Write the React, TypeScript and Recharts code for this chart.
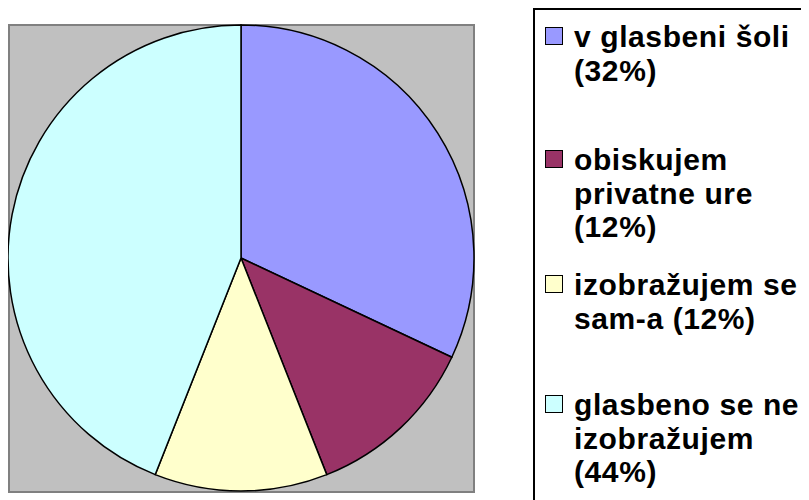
import React from "react";
import { PieChart, Pie, Cell, Legend } from "recharts";

const categories = [
  "v glasbeni šoli (32%)",
  "obiskujem privatne ure (12%)",
  "izobražujem se sam-a (12%)",
  "glasbeno se ne izobražujem (44%)",
];
const values = [32, 12, 12, 44];
const colors = ["#9999FF", "#993366", "#FFFFCC", "#CCFFFF"];

const data = categories.map((name, i) => ({ name, value: values[i] }));

// top of each legend item inside the legend box (Excel spaces them unevenly)
const itemTops = [10, 133, 258, 378];

// legend drawn from the data arrays so the order stays as in the source
const renderLegend = () => (
  <div
    style={{
      position: "relative",
      width: 320,
      height: 520,
      border: "2px solid #000",
      background: "#fff",
      boxSizing: "border-box",
      fontFamily: "'Liberation Sans', Arial, sans-serif",
      fontWeight: "bold",
      fontSize: 30,
      lineHeight: "33.5px",
      letterSpacing: 0.6,
      color: "#000",
    }}
  >
    {categories.map((name, i) => (
      <div
        key={name}
        style={{ position: "absolute", left: 10, top: itemTops[i], width: 260 }}
      >
        <span
          style={{
            position: "absolute",
            left: 0,
            top: 7,
            width: 16,
            height: 16,
            border: "1.5px solid #000",
            background: colors[i],
          }}
        />
        <div style={{ marginLeft: 29, width: 232 }}>{name}</div>
      </div>
    ))}
  </div>
);

const App = () => {
  return (
    <div style={{ position: "relative", width: 801, height: 492, overflow: "hidden" }}>
      <div
        style={{
          position: "absolute",
          left: 0,
          top: 16,
          width: 467,
          height: 469,
          background: "#C0C0C0",
          border: "2px solid #808080",
          boxSizing: "border-box",
        }}
      />
      <div style={{ position: "absolute", left: 0, top: 0 }}>
        <PieChart width={801} height={492} margin={{ top: 0, right: 0, bottom: 0, left: 0 }}>
          <Pie
            data={data}
            dataKey="value"
            nameKey="name"
            cx={233}
            cy={250}
            outerRadius={233}
            startAngle={90}
            endAngle={-270}
            stroke="#000"
            strokeWidth={1.5}
            isAnimationActive={false}
          >
            {data.map((_, i) => (
              <Cell key={i} fill={colors[i]} />
            ))}
          </Pie>
          <Legend
            layout="vertical"
            align="right"
            verticalAlign="top"
            content={renderLegend}
            wrapperStyle={{ left: 525, top: 0, width: 320, height: 520 }}
          />
        </PieChart>
      </div>
    </div>
  );
};

export default App;
